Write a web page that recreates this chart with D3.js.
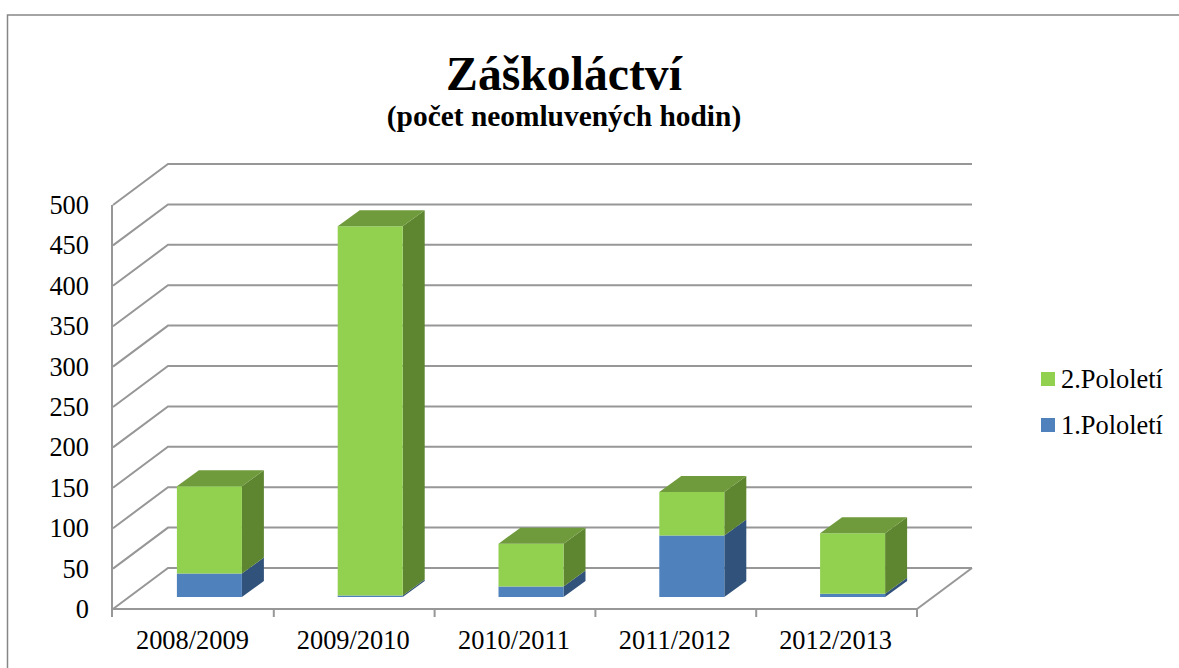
<!DOCTYPE html>
<html>
<head>
<meta charset="utf-8">
<script src="https://cdn.jsdelivr.net/npm/d3@7"></script>
<style>
  html, body { margin: 0; background: #fff; overflow: hidden; }
  text { font-family: "Liberation Serif", serif; fill: #000; }
</style>
</head>
<body>
<script>
const years = ['2008/2009', '2009/2010', '2010/2011', '2011/2012', '2012/2013']
const pololeti1 = [29, 2, 13, 76, 4]
const pololeti2 = [108, 457, 53, 54, 75]
const yTicks = [0, 50, 100, 150, 200, 250, 300, 350, 400, 450, 500]
const seriesNames = ['1.Pololetí', '2.Pololetí']

const width = 1179
const height = 668
const gridColor = '#979797'
const labelSize = 26.4

const x = d3.scaleBand().domain(years).range([113, 917])
const y = d3.scaleLinear().domain([0, 500]).range([609, 205])

// oblique shift of the chart floor, and of the bars standing on it
const depth = { dx: 55, dy: -41 }
const barFront = { dx: 16, dy: -12 }
const barDepth = { dx: 22, dy: -16 }
const barWidth = 65

const colors = [
  { front: '#4f81bd', side: '#31527a', top: '#3f6a9e' },
  { front: '#92d050', side: '#5e8530', top: '#709b3c' }
]

const svg = d3.select('body').append('svg')
  .attr('width', width)
  .attr('height', height)

// outer frame
svg.append('path')
  .attr('d', `M7.5,${height}V15H${width}`)
  .attr('fill', 'none')
  .attr('stroke', '#868686')
  .attr('stroke-width', 1.5)

// title
svg.append('text')
  .attr('x', 564).attr('y', 90)
  .attr('text-anchor', 'middle')
  .attr('font-size', 47.7)
  .attr('font-weight', 700)
  .text('Záškoláctví')
svg.append('text')
  .attr('x', 564).attr('y', 126)
  .attr('text-anchor', 'middle')
  .attr('font-size', 29.4)
  .attr('font-weight', 700)
  .text('(počet neomluvených hodin)')

// walls and floor grid
const x0 = x.range()[0]
const x1 = x.range()[1]
const line = d3.line()
const grid = svg.append('g')
  .attr('fill', 'none')
  .attr('stroke', gridColor)
  .attr('stroke-width', 2)

grid.selectAll('path.grid')
  .data(yTicks)
  .enter().append('path')
  .attr('class', 'grid')
  .attr('d', d => line([[x0, y(d)], [x0 + depth.dx, y(d) + depth.dy], [x1 + depth.dx, y(d) + depth.dy]]))

grid.append('path')
  .attr('d', line([[x1, y(0)], [x1 + depth.dx, y(0) + depth.dy]]))
grid.append('path')
  .attr('d', line([[x0 - 1, y(500)], [x0 - 1, y(0) + 8]]))
grid.append('path')
  .attr('d', line([[x0, y(0)], [x1, y(0)]]))
grid.selectAll('path.tick')
  .data(years)
  .enter().append('path')
  .attr('class', 'tick')
  .attr('d', d => line([[x(d) + x.bandwidth(), y(0)], [x(d) + x.bandwidth(), y(0) + 8]]))

// bars
const poly = pts => line(pts) + 'Z'
const bars = svg.append('g')

years.forEach((year, i) => {
  const left = x(year) + (x.bandwidth() - barWidth) / 2 + barFront.dx
  const right = left + barWidth
  const dx = barDepth.dx
  const dy = barDepth.dy
  const segments = [
    { from: 0, to: pololeti1[i], c: colors[0] },
    { from: pololeti1[i], to: pololeti1[i] + pololeti2[i], c: colors[1] }
  ]
  const g = bars.append('g').attr('class', 'bar')
  segments.forEach(s => {
    const yb = y(s.from) + barFront.dy
    const yt = y(s.to) + barFront.dy
    g.append('path')
      .attr('d', poly([[right, yb], [right + dx, yb + dy], [right + dx, yt + dy], [right, yt]]))
      .attr('fill', s.c.side)
    g.append('path')
      .attr('d', poly([[left, yb], [right, yb], [right, yt], [left, yt]]))
      .attr('fill', s.c.front)
  })
  const top = y(pololeti1[i] + pololeti2[i]) + barFront.dy
  g.append('path')
    .attr('d', poly([[left, top], [right, top], [right + dx, top + dy], [left + dx, top + dy]]))
    .attr('fill', colors[1].top)
})

// y labels
svg.selectAll('text.ylab')
  .data(yTicks)
  .enter().append('text')
  .attr('class', 'ylab')
  .attr('x', 89)
  .attr('y', d => y(d) + 9)
  .attr('text-anchor', 'end')
  .attr('font-size', labelSize)
  .text(d => d)

// x labels
svg.selectAll('text.xlab')
  .data(years)
  .enter().append('text')
  .attr('class', 'xlab')
  .attr('x', d => x(d) + x.bandwidth() / 2 - 1)
  .attr('y', 649)
  .attr('text-anchor', 'middle')
  .attr('font-size', labelSize)
  .text(d => d)

// legend, upper series first
const legend = svg.selectAll('g.legend')
  .data([1, 0])
  .enter().append('g')
  .attr('class', 'legend')
  .attr('transform', (d, i) => `translate(1041, ${372 + i * 46})`)
legend.append('rect')
  .attr('width', 14).attr('height', 14)
  .attr('fill', d => colors[d].front)
legend.append('text')
  .attr('x', 20).attr('y', 16)
  .attr('font-size', labelSize)
  .text(d => seriesNames[d])
</script>
</body>
</html>
